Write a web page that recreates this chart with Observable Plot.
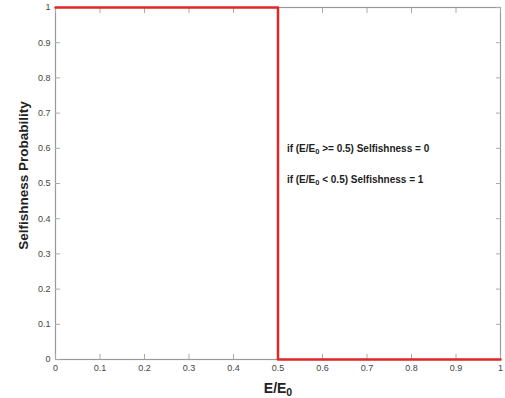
<!DOCTYPE html>
<html><head><meta charset="utf-8">
<script src="https://cdn.jsdelivr.net/npm/d3@7"></script>
<script src="https://cdn.jsdelivr.net/npm/@observablehq/plot@0.6"></script>
<style>body{margin:0;background:#fff;font-family:Arial,"Liberation Sans",sans-serif}</style>
</head><body><div id="chart"></div>
<script>
const energyRatio = [0, 0.5, 0.5, 1];
const selfishness = [1, 1, 0, 0];
const xTicks = [0,0.1,0.2,0.3,0.4,0.5,0.6,0.7,0.8,0.9,1];
const yTicks = [0,0.1,0.2,0.3,0.4,0.5,0.6,0.7,0.8,0.9,1];
const notes = ["if (E/E₀ >= 0.5) Selfishness = 0", "if (E/E₀ < 0.5) Selfishness = 1"];
const noteX = [0.52, 0.52];
const noteY = [0.6, 0.51];

const line = energyRatio.map((x,i)=>({x, y: selfishness[i]}));
const noteData = notes.map((t,i)=>({t, x: noteX[i], y: noteY[i]}));
const fmt = d => String(d);

const chart = Plot.plot({
  width: 505, height: 398,
  marginLeft: 55, marginRight: 5, marginTop: 7, marginBottom: 39,
  style: {fontFamily: "Arial, 'Liberation Sans', sans-serif", background: "#fff"},
  x: {domain: [0,1]},
  y: {domain: [0,1]},
  marks: [
    Plot.frame({stroke: "#999", strokeWidth: 1.2}),
    Plot.axisX({ticks: xTicks, tickSize: -5, tickPadding: 10, tickFormat: fmt, fontSize: 9, color: "#444", label: null, stroke: "#aaa"}),
    Plot.axisX({anchor: "top", ticks: xTicks, tickSize: -5, tickFormat: () => "", label: null, stroke: "#aaa"}),
    Plot.axisY({ticks: yTicks, tickSize: -5, tickPadding: 10, tickFormat: fmt, fontSize: 9, color: "#444", label: null, stroke: "#aaa"}),
    Plot.axisY({anchor: "right", ticks: yTicks, tickSize: -5, tickFormat: () => "", label: null, stroke: "#aaa"}),
    Plot.line(line, {x: "x", y: "y", stroke: "#e02828", strokeWidth: 2.5}),
    Plot.text(noteData, {x: "x", y: "y", text: "t", textAnchor: "start", fontSize: 10, fontWeight: "bold", fill: "#222"}),
    Plot.text(["E/E₀"], {frameAnchor: "bottom", dy: 24, lineAnchor: "top", fontSize: 14, fontWeight: "bold", fill: "#222"}),
    Plot.text(["Selfishness Probability"], {frameAnchor: "left", textAnchor: "middle", dx: -32, dy: -8, rotate: -90, fontSize: 13.5, fontWeight: "bold", fill: "#222"})
  ]
});
// render subscript zero as real subscript
d3.select(chart).selectAll("text").each(function() {
  const el = d3.select(this);
  const s = this.textContent;
  if (!s.includes("₀")) return;
  const parts = s.split("₀");
  el.text(null);
  parts.forEach((p, i) => {
    if (p) el.append("tspan").text(p);
    if (i < parts.length - 1) {
      el.append("tspan").attr("baseline-shift", "-30%").attr("font-size", "75%").text("0");
    }
  });
});
document.getElementById("chart").appendChild(chart);
</script></body></html>
